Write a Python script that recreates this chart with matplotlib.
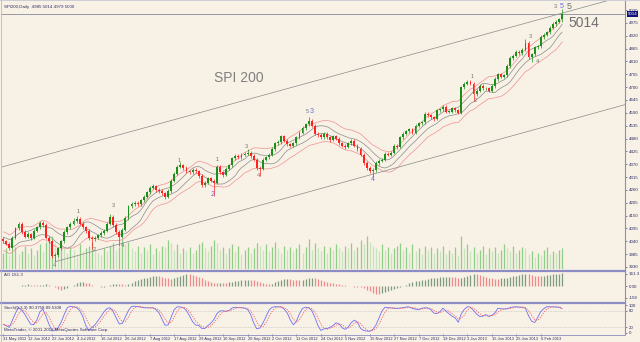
import numpy as np
import pandas as pd
import matplotlib
matplotlib.use("Agg")
import matplotlib.pyplot as plt

# SPI200 daily, 31 May 2012 .. 15 Feb 2013
closes = [4040, 4030, 4010, 4055, 4095, 4115, 4080, 4060, 4070, 4055,
          4085, 4100, 4120, 4110, 4055, 4040, 3975, 3980, 4010, 4040,
          4080, 4100, 4115, 4125, 4135, 4115, 4100, 4085, 4055, 4050,
          4055, 4065, 4075, 4085, 4115, 4145, 4110, 4080, 4060, 4090,
          4140, 4190, 4200, 4205, 4200, 4215, 4230, 4250, 4270, 4275,
          4260, 4255, 4245, 4230, 4255, 4300, 4330, 4360, 4365, 4355,
          4340, 4335, 4345, 4340, 4320, 4280, 4290, 4310, 4300, 4290,
          4360, 4335, 4325, 4350, 4365, 4395, 4405, 4400, 4410, 4415,
          4420, 4405, 4390, 4355, 4350, 4390, 4400, 4410, 4435, 4460,
          4465, 4490, 4470, 4455, 4450, 4460, 4485, 4505, 4525, 4540,
          4555, 4535, 4500, 4495, 4485, 4500, 4485, 4475, 4490, 4480,
          4460, 4450, 4445, 4460, 4470, 4450, 4435, 4410, 4375, 4355,
          4340, 4345, 4375, 4385, 4390, 4415, 4410, 4420, 4450, 4445,
          4485, 4500, 4510, 4520, 4505, 4535, 4545, 4550, 4585, 4580,
          4570, 4565, 4600, 4605, 4615, 4595, 4595, 4610, 4600, 4590,
          4700, 4715, 4720, 4715, 4670, 4685, 4705, 4695, 4695, 4685,
          4705, 4735, 4755, 4745, 4750, 4790, 4825, 4835, 4850, 4845,
          4860, 4890, 4830, 4840, 4870, 4875, 4915, 4925, 4935, 4955,
          4970, 4980, 4990, 5014]
highs = [4058, 4047, 4037, 4062, 4103, 4124, 4122, 4087, 4078, 4077,
         4092, 4107, 4128, 4127, 4117, 4062, 4046, 3990, 4017, 4047,
         4087, 4107, 4122, 4140, 4150, 4142, 4122, 4107, 4092, 4063,
         4063, 4072, 4082, 4092, 4122, 4158, 4152, 4117, 4087, 4097,
         4147, 4197, 4207, 4213, 4212, 4222, 4237, 4257, 4277, 4285,
         4282, 4267, 4262, 4252, 4262, 4307, 4337, 4368, 4378, 4372,
         4362, 4347, 4352, 4353, 4347, 4327, 4297, 4317, 4317, 4307,
         4367, 4367, 4342, 4357, 4372, 4402, 4412, 4412, 4417, 4422,
         4435, 4427, 4412, 4397, 4362, 4397, 4407, 4417, 4442, 4467,
         4473, 4497, 4497, 4477, 4462, 4467, 4492, 4512, 4532, 4547,
         4572, 4562, 4542, 4507, 4502, 4507, 4507, 4492, 4497, 4497,
         4487, 4467, 4457, 4467, 4477, 4477, 4457, 4442, 4417, 4382,
         4362, 4353, 4382, 4392, 4397, 4422, 4422, 4427, 4457, 4457,
         4492, 4507, 4517, 4527, 4527, 4542, 4552, 4557, 4592, 4592,
         4587, 4577, 4607, 4612, 4622, 4622, 4602, 4617, 4617, 4607,
         4707, 4722, 4730, 4732, 4722, 4692, 4712, 4712, 4702, 4702,
         4712, 4742, 4762, 4762, 4757, 4797, 4832, 4842, 4857, 4857,
         4867, 4905, 4897, 4847, 4877, 4882, 4922, 4932, 4942, 4962,
         4977, 4987, 4997, 5035]
lows = [4032, 4022, 4002, 4004, 4048, 4088, 4073, 4052, 4053, 4047,
        4048, 4078, 4093, 4103, 4048, 4032, 3966, 3950, 3973, 4003,
        4033, 4073, 4093, 4108, 4118, 4108, 4093, 4077, 4047, 4005,
        4043, 4048, 4058, 4068, 4078, 4108, 4103, 4072, 4018, 4053,
        4083, 4133, 4183, 4193, 4192, 4193, 4208, 4223, 4243, 4263,
        4252, 4247, 4237, 4222, 4223, 4248, 4293, 4323, 4352, 4347,
        4332, 4327, 4328, 4332, 4312, 4272, 4273, 4283, 4293, 4235,
        4283, 4328, 4317, 4318, 4343, 4358, 4388, 4393, 4393, 4403,
        4408, 4398, 4383, 4347, 4320, 4343, 4383, 4393, 4403, 4428,
        4453, 4458, 4463, 4448, 4442, 4443, 4453, 4478, 4498, 4518,
        4533, 4528, 4493, 4487, 4477, 4478, 4478, 4467, 4468, 4473,
        4453, 4443, 4437, 4438, 4453, 4443, 4428, 4403, 4368, 4347,
        4332, 4315, 4338, 4368, 4378, 4383, 4403, 4403, 4413, 4437,
        4438, 4478, 4493, 4503, 4498, 4498, 4528, 4538, 4543, 4573,
        4563, 4557, 4558, 4593, 4598, 4588, 4588, 4588, 4593, 4583,
        4583, 4693, 4708, 4708, 4640, 4663, 4678, 4688, 4688, 4678,
        4678, 4698, 4728, 4738, 4738, 4743, 4783, 4818, 4828, 4838,
        4838, 4853, 4820, 4808, 4833, 4863, 4868, 4908, 4918, 4928,
        4948, 4963, 4973, 4979]
first_open = 4050
# tick volume, thousands
volumes = [12, 15, 10, 14, 16, 11, 13, 17, 12, 15, 10,
           14, 18, 13, 20, 22, 24, 19, 16, 21, 15,
           12, 16, 14, 11, 18, 13, 15, 17, 20, 14,
           12, 10, 15, 13, 17, 19, 14, 16, 22, 18,
           20, 15, 13, 17, 12, 16, 14, 18, 11, 15,
           13, 17, 16, 21, 19, 14, 18, 12, 15, 13,
           16, 12, 14, 18, 20, 15, 13, 17, 21, 19,
           14, 16, 12, 15, 18, 13, 17, 11, 14, 16,
           12, 15, 19, 17, 14, 18, 13, 16, 20, 15,
           12, 17, 14, 16, 13, 15, 18, 12, 16, 22,
           14, 19, 15, 13, 17, 12, 16, 14, 18, 15,
           13, 17, 15, 19, 14, 16, 21, 18, 24, 20,
           17, 15, 13, 18, 14, 16, 12, 15, 17, 19,
           14, 16, 12, 18, 13, 15, 11, 17, 14, 16,
           12, 15, 13, 17, 11, 14, 12, 16, 10, 24,
           15, 18, 13, 16, 12, 14, 17, 11, 15, 13,
           16, 12, 14, 18, 15, 13, 17, 12, 14, 16,
           15, 11, 13, 9, 12, 10, 14, 16, 11, 13, 12, 14, 15]

date_labels = ["31 May 2012", "12 Jun 2012", "22 Jun 2012", "4 Jul 2012",
               "16 Jul 2012", "26 Jul 2012", "7 Aug 2012", "17 Aug 2012",
               "29 Aug 2012", "10 Sep 2012", "20 Sep 2012", "2 Oct 2012",
               "11 Oct 2012", "24 Oct 2012", "5 Nov 2012", "15 Nov 2012",
               "27 Nov 2012", "7 Dec 2012", "19 Dec 2012", "3 Jan 2013",
               "15 Jan 2013", "25 Jan 2013", "6 Feb 2013"]
date_bars = list(range(0, 184, 8))

price_ticks = [5030, 4975, 4920, 4865, 4810, 4755, 4700, 4645, 4590, 4535,
               4480, 4425, 4370, 4315, 4260, 4205, 4150, 4095, 4040, 3985, 3930]
last_price = 5014

# trend channel anchors (bar, price)
upper_trend = ([-1, 205], [4356, 5096])
lower_trend = ([17, 205], [3952, 4630])

# wave counts: (bar, price, text, size, colour)
GREY, BLUE = "#707070", "#6a6aee"
waves = [(16.7, 3934, "4", 4, GREY), (24.5, 4166, "1", 4, GREY), (29.7, 4003, "2", 4, GREY),
         (36, 4195, "3", 4, GREY), (38.9, 4020, "4", 4, GREY), (57.5, 4384, "1", 4, GREY),
         (68.6, 4238, "2", 5, BLUE), (70, 4388, "1", 4, GREY), (72.5, 4333, "2", 4, GREY),
         (79.7, 4446, "3", 4, GREY), (83.7, 4320, "4", 4, GREY), (99.6, 4594, "5", 4, GREY),
         (100.9, 4594, "3", 5, BLUE), (121, 4303, "4", 5, BLUE), (153.6, 4744, "1", 4, GREY),
         (154.6, 4641, "2", 4, GREY), (172.5, 4919, "3", 4, GREY), (174.8, 4808, "4", 4, GREY),
         (180.8, 5044, "3", 4, GREY), (182.8, 5044, "5", 5, BLUE), (185.2, 5044, "5", 6.5, GREY)]

BG = "#f8f1e6"
FRAME = "#8c8cc4"
TXT = "#2e2e66"
FONT = "Liberation Sans"

df = pd.DataFrame({"close": closes, "high": highs, "low": lows, "vol": volumes})
df["open"] = [first_open] + closes[:-1]
x = np.arange(len(df))

env_mid = df["close"].rolling(10, min_periods=1).mean()
ma_hi = df["high"].rolling(8, min_periods=1).mean()
ma_lo = df["low"].rolling(8, min_periods=1).mean()

median = (df["high"] + df["low"]) / 2
ao = median.rolling(5, min_periods=1).mean() - median.rolling(34, min_periods=1).mean()

ll = df["low"].rolling(5, min_periods=1).min()
hh = df["high"].rolling(5, min_periods=1).max()
k = ((df["close"] - ll).rolling(3, min_periods=1).sum()
     / (hh - ll).rolling(3, min_periods=1).sum() * 100)
d = k.rolling(3, min_periods=1).mean()

fig = plt.figure(figsize=(6.4, 3.42), dpi=100, facecolor=BG)
W, H = 640.0, 342.0
x_right = 625 / W
ax = fig.add_axes([0.002, 73 / H, x_right - 0.002, 268 / H])
ax_ao = fig.add_axes([0.002, 41 / H, x_right - 0.002, 30 / H], sharex=ax)
ax_st = fig.add_axes([0.002, 8 / H, x_right - 0.002, 30 / H], sharex=ax)

# volumes behind the candles
ax_v = ax.twinx()
ax_v.set_zorder(ax.get_zorder() - 1)
ax_v.set_facecolor(BG)
vol_up = df["vol"].diff().fillna(0) >= 0
ax_v.vlines(x, 0, df["vol"], colors=np.where(vol_up, "#8fce86", "#c6e4bc"), lw=0.9)
ax_v.set_ylim(0, 195)
ax_v.set_yticks([])
for s in ax_v.spines.values():
    s.set_visible(False)

for a in (ax, ax_ao, ax_st):
    a.set_facecolor(BG)
    a.yaxis.tick_right()
    a.tick_params(axis="y", labelsize=3.2, colors=TXT, length=1.5, width=0.4, pad=1,
                  left=False, labelleft=False, right=True, labelright=True)
    a.tick_params(axis="x", length=1.5, width=0.4, colors=TXT)
    for s in ("left", "top", "bottom"):
        a.spines[s].set_visible(False)
    a.spines["right"].set_color(FRAME)
    a.spines["right"].set_linewidth(0.8)
ax.patch.set_visible(False)

# indicators
ax.plot(x, env_mid * 1.01, color="#f09090", lw=0.5)
ax.plot(x, env_mid * 0.99, color="#f09090", lw=0.5)
ax.plot(x, ma_hi, color="#8a8a8a", lw=0.5)
ax.plot(x, ma_lo, color="#8a8a8a", lw=0.5)

# candles
up = df["close"] >= df["open"]
cols = np.where(up, "#1a8f1a", "#ff2020")
ax.vlines(x, df["low"], df["high"], colors=cols, lw=0.5, zorder=3)
body_lo = np.minimum(df["open"], df["close"])
body_h = np.maximum((df["close"] - df["open"]).abs(), 2)
ax.bar(x, body_h, bottom=body_lo, width=0.62, color=cols, linewidth=0, zorder=4)

# trend channel and bid line
ax.plot(*upper_trend, color="#8a8a8a", lw=0.5)
ax.plot(*lower_trend, color="#8a8a8a", lw=0.5)
ax.axhline(last_price, color="#8a8a9a", lw=0.6)

for bx, py, t, size, col in waves:
    ax.text(bx, py, t, ha="center", va="center", family=FONT, fontsize=size, color=col)

ax.text(69, 4739, "SPI 200", family=FONT, fontsize=10, color="#808080", va="center")
ax.text(185.2, 4975, "5014", family=FONT, fontsize=10, color="#707070", va="center")
ax.text(0.004, 0.985, "SPI200,Daily  4985 5014 4979 5000", transform=ax.transAxes,
        family=FONT, fontsize=3.2, color=TXT, va="top")

ax.set_xlim(-0.65, 203.6)
ax.set_ylim(3921, 5069)
ax.set_yticks(price_ticks)
ax.set_yticklabels([str(p) for p in price_ticks], family=FONT)
ax.text(1.004, last_price, str(last_price), transform=ax.get_yaxis_transform(),
        family=FONT, fontsize=3.2, color="white", va="center",
        bbox=dict(boxstyle="square,pad=0.15", fc="#10107a", ec="none"))
ax.tick_params(axis="x", bottom=False, labelbottom=False)

# awesome oscillator
ao_up = ao.diff().fillna(0) > 0
ax_ao.vlines(x, 0, ao, colors=np.where(ao_up, "#7e9c7e", "#ef8a8a"), lw=0.9)
ax_ao.set_ylim(-200, 200)
ax_ao.set_yticks([161.3, 0, -158])
ax_ao.set_yticklabels(["161.3", "0.00", "-158"], family=FONT)
ax_ao.tick_params(axis="x", bottom=False, labelbottom=False)
ax_ao.text(0.004, 0.93, "AO 161.3", transform=ax_ao.transAxes, family=FONT,
           fontsize=3.2, color=TXT, va="top")

# stochastic
ax_st.axhline(80, color="#9a9a9a", lw=0.4, ls=(0, (1, 2)))
ax_st.axhline(20, color="#9a9a9a", lw=0.4, ls=(0, (1, 2)))
ax_st.plot(x, k, color="#6f6ff5", lw=0.6)
ax_st.plot(x, d, color="#f06060", lw=0.6, ls=(0, (1.5, 1.5)))
ax_st.set_ylim(-3.6, 103.6)
ax_st.set_yticks([100, 80, 20, 0])
ax_st.set_yticklabels(["100", "80", "20", "0"], family=FONT)
ax_st.set_xticks(date_bars)
ax_st.set_xticklabels(date_labels, family=FONT, fontsize=2.9, ha="left", color=TXT)
ax_st.tick_params(axis="x", pad=1)
ax_st.text(0.004, 0.92, "Stoch(5,3,3) 90.3758 89.5308", transform=ax_st.transAxes,
           family=FONT, fontsize=3.2, color=TXT, va="top")
ax_st.text(0.004, 0.06, "MetaTrader, \u00a9 2001-2012 MetaQuotes Software Corp.",
           transform=ax_st.transAxes, family=FONT, fontsize=3.2, color=TXT, va="bottom")

# panel separators and frame
for yy in (270.5, 302.5):
    fig.add_artist(plt.Line2D([0, x_right], [1 - yy / H] * 2, color=FRAME, lw=1.6))
fig.add_artist(plt.Line2D([0, x_right], [1 - 334.5 / H] * 2, color=FRAME, lw=0.6))
fig.add_artist(plt.Line2D([0.0015, 0.0015], [0, 1], color="#b8b8c8", lw=0.6))
fig.add_artist(plt.Line2D([0, 1], [0.999, 0.999], color="#c8c8d4", lw=0.6))

fig.savefig("out.png", dpi=100, facecolor=BG)
